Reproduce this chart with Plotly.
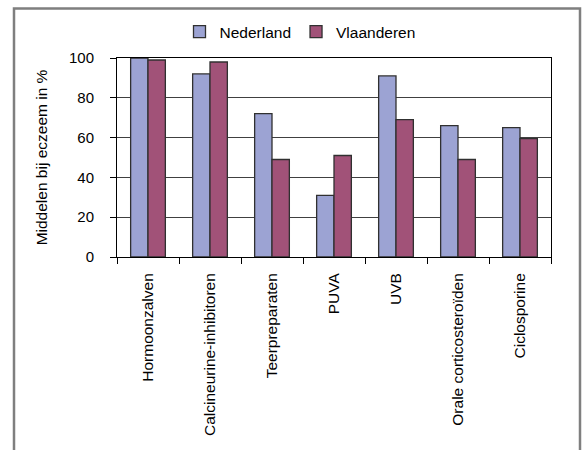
import plotly.graph_objects as go

categories = ["Hormoonzalven", "Calcineurine-inhibitoren", "Teerpreparaten", "PUVA",
              "UVB", "Orale corticosteroïden", "Ciclosporine"]
nederland = [100, 92, 72, 31, 91, 66, 65]
vlaanderen = [99, 98, 49, 51, 69, 49, 59.5]
y_ticks = [0, 20, 40, 60, 80, 100]

FONT = "Liberation Sans, Arial, sans-serif"
W, H = 584, 450
L, R, T, B = 117, 551, 58, 257

fig = go.Figure()
fig.add_trace(go.Bar(x=categories, y=nederland, name="Nederland",
                     marker=dict(color="#9CA3D3", line=dict(color="#303030", width=1.3))))
fig.add_trace(go.Bar(x=categories, y=vlaanderen, name="Vlaanderen",
                     marker=dict(color="#A15278", line=dict(color="#303030", width=1.3))))

pw, ph = R - L, B - T
def px(x):
    return (x - L) / pw
def py(y):
    return (B - y) / ph

fig.add_shape(type="rect", xref="paper", yref="paper",
              x0=px(14), x1=px(580), y0=py(470), y1=py(8.5),
              line=dict(color="#7f7f7f", width=2.5), fillcolor="rgba(0,0,0,0)", layer="above")

fig.update_layout(
    width=W, height=H,
    margin=dict(l=L, r=W - R, t=T, b=H - B, autoexpand=False),
    paper_bgcolor="white", plot_bgcolor="white",
    font=dict(family=FONT, size=15, color="#000000"),
    barmode="group", bargap=0.44, bargroupgap=0,
    showlegend=True,
    legend=dict(orientation="h", x=px(300), xanchor="center", y=py(32), yanchor="middle",
                font=dict(size=15.5), itemwidth=30, traceorder="normal",
                bgcolor="rgba(0,0,0,0)"),
    xaxis=dict(type="category", showline=True, linecolor="#000000", linewidth=1,
               mirror=True, ticks="outside", ticklen=6, tickcolor="#000000",
               tickson="boundaries", tickangle=-90, showgrid=False,
               tickfont=dict(size=15.5), ticklabelstandoff=9),
    yaxis=dict(range=[0, 100], tickvals=y_ticks, showline=True, linecolor="#000000",
               linewidth=1, mirror=True, ticks="outside", ticklen=6, tickcolor="#000000",
               showgrid=True, gridcolor="#404040", gridwidth=1, zeroline=False,
               tickfont=dict(size=15), ticklabelstandoff=13,
               title=dict(text="Middelen bij eczeem in %", font=dict(size=15.5), standoff=17)),
)

fig.write_html("out.html", config={"displayModeBar": False},
               post_script="document.body.style.margin='0';")
